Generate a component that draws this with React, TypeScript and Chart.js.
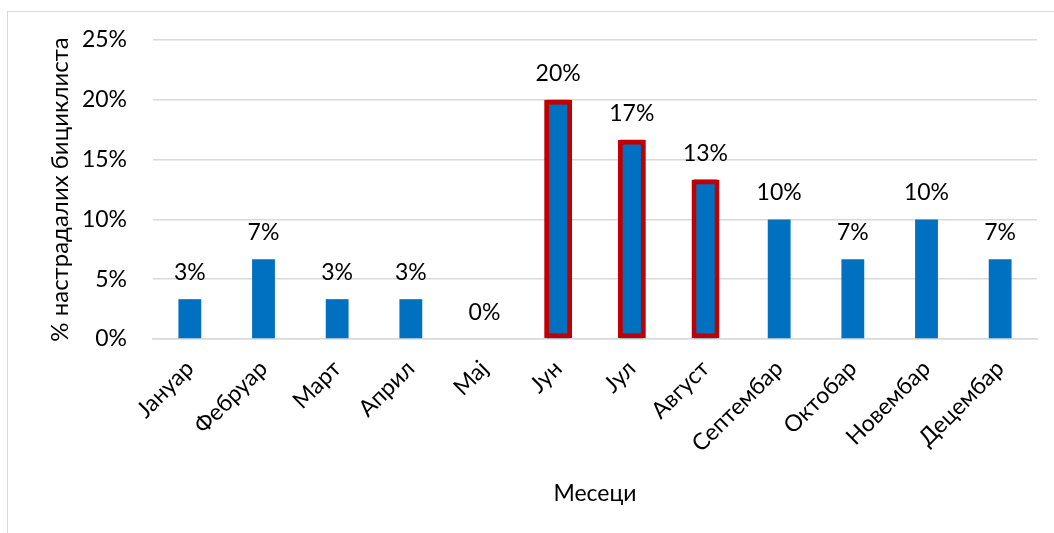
import React, { useEffect, useRef } from "react";
import { Chart, registerables } from "chart.js";

Chart.register(...registerables);

const categories = ["Јануар", "Фебруар", "Март", "Април", "Мај", "Јун", "Јул", "Август", "Септембар", "Октобар", "Новембар", "Децембар"];
const values = [3.33, 6.67, 3.33, 3.33, 0, 20, 16.67, 13.33, 10, 6.67, 10, 6.67];
const highlighted = [null, null, null, null, null, 20, 16.67, 13.33, null, null, null, null];
const yTickValues = [0, 5, 10, 15, 20, 25];
const yTitle = "% настрадалих бициклиста";
const xTitle = "Месеци";

const FONT = "Lato, 'Open Sans', sans-serif";
const FS = 23;

const labelPlugin = {
  id: "barLabels",
  afterDatasetsDraw(chart: any) {
    const ctx = chart.ctx;
    const meta = chart.getDatasetMeta(1);
    ctx.save();
    ctx.font = `${FS}px ${FONT}`;
    ctx.fillStyle = "#000";
    ctx.textAlign = "center";
    ctx.textBaseline = "alphabetic";
    meta.data.forEach((bar: any, i: number) => {
      const v = values[i];
      ctx.fillText(Math.round(v) + "%", bar.x, bar.y - 19);
    });
    ctx.restore();
  },
};

export default function App() {
  const ref = useRef<HTMLCanvasElement>(null);
  useEffect(() => {
    if (!ref.current) return;
    const chart = new Chart(ref.current, {
      type: "bar",
      data: {
        labels: categories,
        datasets: [
          {
            data: highlighted as any,
            backgroundColor: "#0070C0",
            borderColor: "#C00000",
            borderWidth: 5,
            borderSkipped: false,
            barPercentage: 0.38,
            categoryPercentage: 1,
            grouped: false,
            order: 0,
          },
          {
            data: values,
            backgroundColor: "#0070C0",
            borderWidth: 0,
            barPercentage: 0.31,
            categoryPercentage: 1,
            grouped: false,
            order: 1,
          },
        ],
      },
      options: {
        responsive: false,
        animation: false,
        layout: { padding: { left: 46, top: 40, right: 17, bottom: 0 } },
        plugins: {
          legend: { display: false },
          tooltip: { enabled: false },
        },
        scales: {
          x: {
            grid: { display: false, drawTicks: false },
            border: { display: true, color: "#d9d9d9", width: 1.5 },
            ticks: {
              color: "#000",
              font: { family: FONT, size: FS },
              maxRotation: 45,
              minRotation: 45,
              padding: 16,
              autoSkip: false,
            },
            title: {
              display: true,
              text: xTitle,
              color: "#000",
              font: { family: FONT, size: FS },
              padding: { top: 0, bottom: 26 },
            },
            afterFit(scale: any) {
              scale.height = 194;
            },
          },
          y: {
            min: 0,
            max: 25,
            afterBuildTicks(scale: any) {
              scale.ticks = yTickValues.map((v) => ({ value: v }));
            },
            grid: { color: "#d9d9d9", lineWidth: 1.5, drawTicks: false },
            border: { display: false },
            ticks: {
              color: "#000",
              font: { family: FONT, size: FS },
              padding: 26,
              callback: (v: any) => v + "%",
            },
            title: {
              display: true,
              text: yTitle,
              color: "#000",
              font: { family: FONT, size: 24 },
              padding: { top: 0, bottom: 0 },
            },
            afterFit(scale: any) {
              scale.width = 107;
            },
          },
        },
      },
      plugins: [labelPlugin],
    });
    return () => chart.destroy();
  }, []);

  return (
    <div style={{ position: "fixed", left: 0, top: 0, width: 1054, height: 533, background: "#fff", overflow: "hidden" }}>
      <div
        style={{
          position: "absolute",
          left: 7,
          top: 11,
          width: 1100,
          height: 600,
          borderTop: "1px solid #d9d9d9",
          borderLeft: "1px solid #d9d9d9",
        }}
      />
      <canvas ref={ref} width={1054} height={533} style={{ position: "absolute", left: 0, top: 0, width: 1054, height: 533 }} />
    </div>
  );
}
